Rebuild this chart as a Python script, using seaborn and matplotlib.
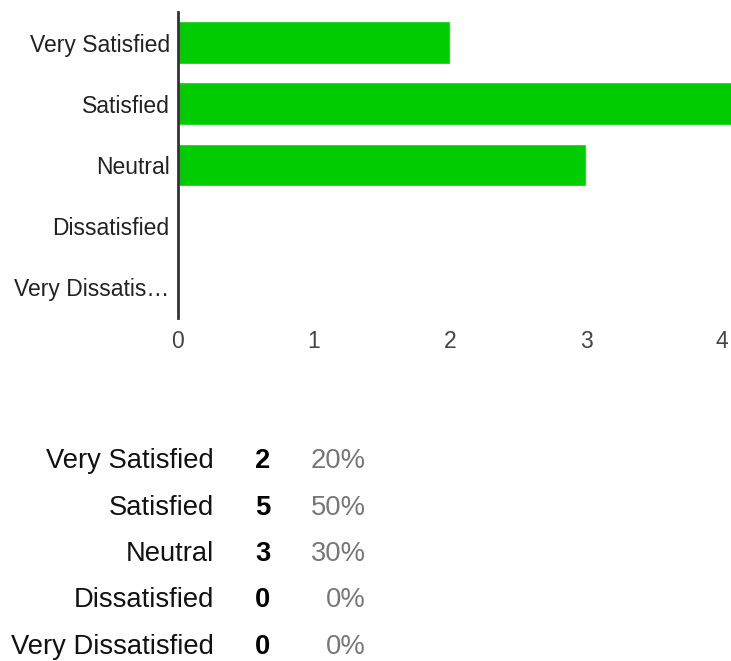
"""Survey satisfaction: horizontal bar chart with a summary table below."""
import matplotlib.pyplot as plt
import pandas as pd
import seaborn as sns

# ======================================================================================================================
# Data
# ======================================================================================================================
CATEGORIES = ['Very Satisfied', 'Satisfied', 'Neutral', 'Dissatisfied', 'Very Dissatisfied']
AXIS_LABELS = ['Very Satisfied', 'Satisfied', 'Neutral', 'Dissatisfied', 'Very Dissatis…']
COUNTS = [2, 5, 3, 0, 0]
PERCENTS = ['20%', '50%', '30%', '0%', '0%']
X_TICKS = [0, 1, 2, 3, 4]

DATA = pd.DataFrame({'answer': CATEGORIES, 'count': COUNTS})

sns.set_style('white')
plt.rcParams['font.family'] = ['Liberation Sans', 'DejaVu Sans']

W, H = 731, 661
fig = plt.figure(figsize=(W / 100, H / 100), dpi=100)

# ======================================================================================================================
# Bar chart
# ======================================================================================================================
ax = fig.add_axes([178 / W, 1 - 318 / H, (722 - 178) / W, (318 - 12) / H])
sns.barplot(data=DATA, x='count', y='answer', orient='h', color='#00cc00', saturation=1,
            width=0.7, ax=ax)
for patch in ax.patches:
    patch.set_clip_on(False)
ax.set_xlim(0, 4)
ax.set_xticks(X_TICKS)
ax.set_yticks(range(len(AXIS_LABELS)))
ax.set_yticklabels(AXIS_LABELS, fontsize=16.5, color='#222222')
ax.tick_params(axis='x', labelsize=16.5, labelcolor='#444444', length=0, pad=9)
ax.tick_params(axis='y', length=0, pad=6)
ax.set_xlabel('')
ax.set_ylabel('')
for side in ['top', 'right', 'bottom']:
    ax.spines[side].set_visible(False)
ax.spines['left'].set_color('#333333')
ax.spines['left'].set_linewidth(2)
ax.set_facecolor('none')

# ======================================================================================================================
# Summary table
# ======================================================================================================================
tab = fig.add_axes([0, 1 - 670 / H, 1, (670 - 438) / H])
tab.set_xlim(0, W)
tab.set_ylim(len(CATEGORIES) - 0.5, -0.5)
tab.axis('off')
for i, (name, n, pct) in enumerate(zip(CATEGORIES, COUNTS, PERCENTS)):
    tab.text(214, i, name, ha='right', va='center', fontsize=19.7, color='#111111')
    tab.text(263, i, str(n), ha='center', va='center', fontsize=19.7, fontweight='bold', color='#000000')
    tab.text(366, i, pct, ha='right', va='center', fontsize=19.7, color='#777777')

fig.savefig('out.png', dpi=100)
